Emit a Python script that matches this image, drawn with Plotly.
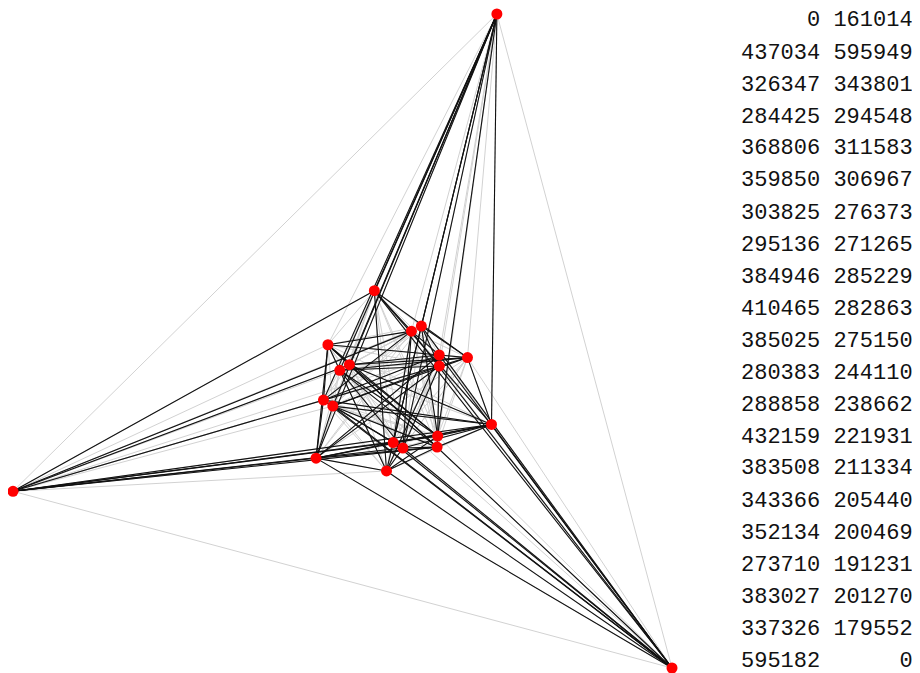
import itertools
import plotly.graph_objects as go

# Node coordinates (as printed in the table on the right)
node_x = [0, 437034, 326347, 284425, 368806, 359850, 303825, 295136, 384946, 410465,
          385025, 280383, 288858, 432159, 383508, 343366, 352134, 273710, 383027, 337326, 595182]
node_y = [161014, 595949, 343801, 294548, 311583, 306967, 276373, 271265, 285229, 282863,
          275150, 244110, 238662, 221931, 211334, 205440, 200469, 191231, 201270, 179552, 0]

# Highlighted (black) edges
black_edges = [
    (0, 2), (0, 5), (0, 6), (0, 11), (0, 15), (0, 16), (0, 17), (0, 18), (0, 14), (0, 13),
    (1, 2), (1, 6), (1, 7), (1, 11), (1, 12), (1, 17), (1, 4), (1, 15), (1, 16), (1, 14), (1, 13),
    (20, 2), (20, 4), (20, 5), (20, 8), (20, 13), (20, 11), (20, 12), (20, 15), (20, 16), (20, 17), (20, 19), (20, 3),
    (3, 5), (3, 8), (3, 11), (3, 17), (3, 6), (3, 19), (3, 14),
    (2, 5), (2, 9), (2, 13), (2, 19),
    (4, 10), (4, 14), (4, 15), (4, 9),
    (5, 16), (5, 15), (5, 8), (5, 11),
    (6, 9), (6, 8), (6, 18), (6, 14), (6, 13),
    (7, 9), (7, 10), (7, 14), (7, 18), (7, 16),
    (8, 9), (8, 19), (8, 11), (8, 17),
    (9, 10), (9, 13), (9, 12),
    (10, 14), (10, 16), (10, 17), (10, 12), (10, 11),
    (11, 17), (11, 13), (11, 16),
    (12, 17), (12, 15), (12, 18), (12, 13),
    (13, 14), (13, 18), (13, 17), (13, 15), (13, 16),
    (14, 18), (14, 15), (14, 19),
    (15, 19), (15, 17),
    (16, 18), (16, 19),
    (17, 18), (17, 19),
    (18, 19),
]

n = len(node_x)
all_edges = list(itertools.combinations(range(n), 2))


def edge_xy(edges):
    ex, ey = [], []
    for a, b in edges:
        ex += [node_x[a], node_x[b], None]
        ey += [node_y[a], node_y[b], None]
    return ex, ey


gx, gy = edge_xy(all_edges)
bx, by = edge_xy(black_edges)

fig = go.Figure()
fig.add_trace(go.Scatter(x=gx, y=gy, mode="lines",
                         line=dict(color="#d2d2d2", width=1),
                         hoverinfo="skip", showlegend=False))
fig.add_trace(go.Scatter(x=bx, y=by, mode="lines",
                         line=dict(color="#111111", width=1.1),
                         hoverinfo="skip", showlegend=False))
fig.add_trace(go.Scatter(x=node_x, y=node_y, mode="markers",
                         marker=dict(color="#ff0000", size=11, line=dict(width=0)),
                         showlegend=False))

# The page places the figure 8px from the window's top-left corner
OFF = 8
W, H = 920 - OFF, 673 - OFF
sx = 659 / max(node_x)
sy = 654 / max(node_y)
x0 = -(13 - OFF) / sx
x1 = x0 + W / sx
y1 = (668 - OFF) / sy
y0 = y1 - H / sy

annotations = []
for i, (a, b) in enumerate(zip(node_x, node_y)):
    py = 21 + i * 32 - OFF
    annotations.append(dict(
        x=(915 - OFF) / W, y=1 - py / H, xref="paper", yref="paper",
        xanchor="right", yanchor="middle", showarrow=False,
        text=f"{a:>6} {b:>6}".replace(" ", "&nbsp;"),
        font=dict(family="Liberation Mono, monospace", size=22, color="#111111"),
    ))

fig.update_layout(
    width=W, height=H,
    margin=dict(l=0, r=0, t=0, b=0),
    paper_bgcolor="white", plot_bgcolor="white",
    xaxis=dict(range=[x0, x1], visible=False, domain=[0, 1]),
    yaxis=dict(range=[y0, y1], visible=False, domain=[0, 1]),
    annotations=annotations,
    showlegend=False,
)

fig.write_html("out.html")
